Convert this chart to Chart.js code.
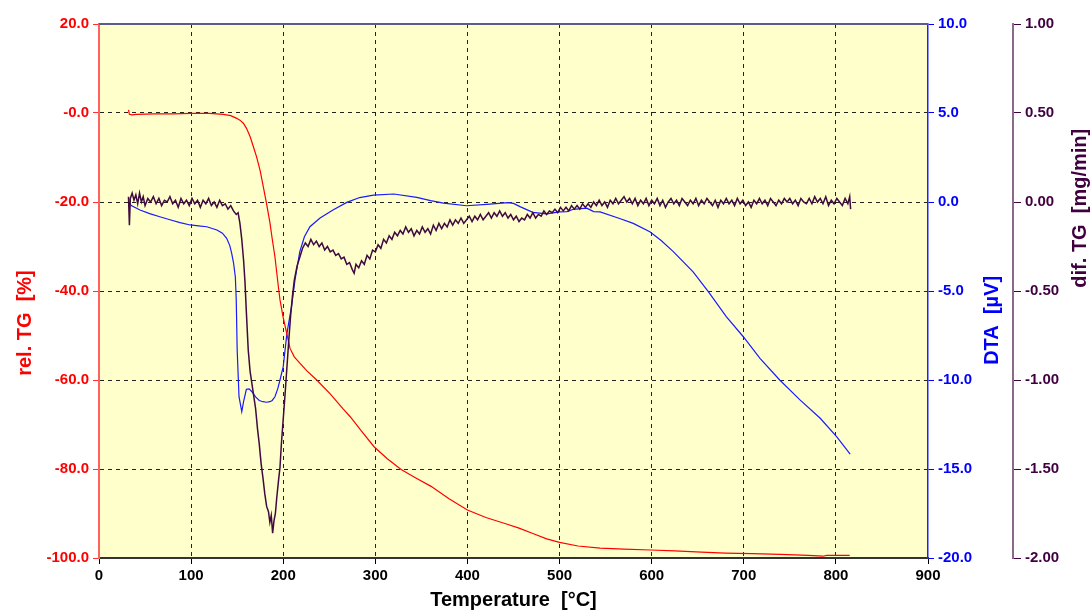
<!DOCTYPE html>
<html>
<head>
    <title>TG / DTA curves</title>
    <script src='https://cdn.jsdelivr.net/npm/chart.js'></script>
    <style>
        body { margin: 0; background: #fff; }
        #wrap { width: 1092px; height: 612px; }
    </style>
</head>
<body>
    <div id="wrap"><canvas id="taChart" width="1092" height="612"></canvas></div>
    <script>
        // rel. TG [%] vs temperature [°C]
        const relTG = [
            [32,0.7],[33,-0.3],[36,-0.4],[40,-0.3],[60,-0.2],[80,-0.2],[100,-0.1],[120,-0.1],[135,-0.3],
            [143,-0.6],[149.5,-1.2],[153,-1.6],[156.7,-2.3],[160,-3.4],[164,-5.3],[167,-7.2],[171,-9.8],
            [175,-13.0],[178.4,-16.6],[182,-20.5],[185.6,-24.7],[188,-28.2],[191,-32.3],[194.7,-39],
            [196.5,-42],[200,-46],[203.8,-49.5],[207.4,-52.9],[212,-54.8],[218,-56.2],[226,-58],
            [236.4,-60],[251,-63.1],[265,-66.5],[272.5,-68.2],[285,-71.5],[298.6,-75],[313,-77.7],
            [328,-80.1],[344,-82],[360.5,-83.9],[380,-86.7],[400,-89.2],[420,-90.9],[441.5,-92.3],
            [456,-93.3],[471,-94.5],[486,-95.7],[500,-96.5],[520,-97.3],[544,-97.8],[570,-98.0],
            [599,-98.2],[625,-98.4],[654,-98.7],[680,-98.9],[709,-99.0],[740,-99.2],[770,-99.4],
            [786,-99.6],[790,-99.4],[815,-99.4]
        ];

        // DTA [µV]
        const dta = [
            [32,0.0],[35,-0.2],[44.5,-0.45],[55,-0.65],[66,-0.83],[77,-1.0],[88,-1.16],[99,-1.29],
            [108,-1.34],[117,-1.39],[128,-1.57],[134,-1.75],[138.6,-2.04],[142,-2.45],[144,-2.87],
            [146,-3.4],[148,-4.2],[149,-5.5],[150,-8.3],[152,-10.94],[155,-11.78],[157,-11.2],
            [160,-10.52],[163,-10.5],[166,-10.66],[170,-10.95],[174,-11.15],[178,-11.22],[182,-11.25],
            [185.6,-11.22],[188,-11.15],[191,-10.94],[194,-10.5],[196.5,-10.0],[200,-9.25],[204,-7.38],
            [209,-5.88],[213,-4.3],[218,-2.79],[223,-1.95],[229,-1.39],[240,-0.9],[254,-0.45],
            [269,-0.02],[283,0.25],[298,0.39],[320,0.45],[345,0.26],[360,0.08],[374,-0.06],[399,-0.21],
            [421,-0.13],[444,-0.04],[450,-0.08],[457,-0.26],[471,-0.58],[486,-0.67],[500,-0.56],
            [508,-0.54],[515,-0.41],[529.5,-0.35],[537,-0.54],[544,-0.56],[566,-0.94],[580,-1.2],
            [598,-1.67],[610,-2.15],[623.5,-2.79],[645,-3.92],[661.5,-5.04],[681,-6.44],[699.5,-7.57],
            [717.6,-8.78],[739,-10.0],[761,-11.12],[783,-12.15],[801,-13.19],[815.5,-14.16]
        ];

        // dif. TG [mg/min]
        const difTG = [
            [32,0.03],[33,-0.13],[34,0.02],[36,0.05],[38,0.01],[40,0.04],[42,-0.01],[44,0.05],[46,0.0],
            [48,0.03],[50,-0.02],[53,0.02],[56,0.0],[59,0.03],[62,-0.01],[65,0.02],[68,-0.02],[71,0.01],
            [74,0.0],[77,0.03],[80,-0.01],[83,0.01],[86,-0.03],[89,0.02],[92,-0.01],[95,0.01],[98,-0.02],
            [101,0.02],[104,-0.01],[107,0.01],[110,-0.03],[113,0.01],[116,-0.01],[119,0.02],[122,-0.02],
            [125,0.0],[128,-0.03],[131,0.01],[134,-0.02],[137,-0.01],[140,-0.04],[143,-0.02],[146,-0.05],
            [149,-0.07],[151,-0.06],[153,-0.12],[155,-0.21],[157,-0.33],[158.5,-0.45],[160,-0.62],
            [162,-0.83],[164,-0.95],[166,-1.02],[168,-1.09],[170,-1.16],[172,-1.27],[174,-1.36],
            [176,-1.47],[178,-1.55],[180,-1.64],[182,-1.71],[184,-1.74],[185.5,-1.80],[187,-1.76],
            [188.5,-1.86],[190,-1.79],[191.5,-1.75],[193,-1.66],[195,-1.56],[196.5,-1.49],[198,-1.36],
            [200,-1.22],[202,-1.08],[204,-0.93],[206,-0.78],[208,-0.64],[210,-0.53],[212,-0.44],
            [215,-0.36],[218,-0.31],[221,-0.26],[224,-0.23],[227,-0.25],[230,-0.21],[233,-0.24],
            [236,-0.22],[239,-0.25],[242,-0.23],[245,-0.27],[248,-0.25],[251,-0.28],[254,-0.27],
            [257,-0.30],[260,-0.29],[263,-0.32],[266,-0.31],[269,-0.35],[272,-0.34],[275,-0.38],
            [277,-0.40],[279,-0.35],[282,-0.37],[285,-0.33],[288,-0.35],[291,-0.30],[294,-0.32],
            [297,-0.27],[300,-0.28],[303,-0.24],[306,-0.26],[309,-0.21],[312,-0.23],[315,-0.19],
            [318,-0.21],[321,-0.17],[324,-0.19],[327,-0.16],[330,-0.18],[333,-0.14],[336,-0.17],
            [339,-0.15],[342,-0.19],[345,-0.16],[348,-0.18],[351,-0.14],[354,-0.17],[357,-0.15],
            [360,-0.18],[363,-0.13],[366,-0.16],[369,-0.12],[372,-0.15],[375,-0.12],[378,-0.14],
            [381,-0.10],[384,-0.13],[387,-0.10],[390,-0.12],[393,-0.09],[396,-0.12],[399,-0.10],
            [402,-0.08],[405,-0.11],[408,-0.08],[411,-0.10],[414,-0.07],[417,-0.10],[420,-0.08],
            [423,-0.06],[426,-0.09],[429,-0.06],[432,-0.08],[435,-0.05],[438,-0.08],[441,-0.06],
            [444,-0.09],[447,-0.07],[450,-0.10],[453,-0.08],[456,-0.11],[459,-0.09],[462,-0.10],
            [465,-0.07],[468,-0.09],[471,-0.06],[474,-0.09],[477,-0.07],[480,-0.08],[483,-0.05],
            [486,-0.07],[489,-0.05],[492,-0.06],[495,-0.04],[498,-0.06],[501,-0.03],[504,-0.05],
            [507,-0.03],[510,-0.05],[513,-0.02],[516,-0.04],[519,-0.02],[522,-0.04],[525,-0.01],
            [528,-0.03],[531,-0.01],[534,-0.03],[537,0.0],[540,-0.02],[543,0.01],[546,-0.02],[549,0.0],
            [552,-0.03],[555,0.01],[558,-0.01],[561,0.02],[564,-0.01],[567,0.01],[570,0.03],[573,0.0],
            [576,0.02],[579,-0.01],[582,0.02],[585,-0.02],[588,0.01],[591,-0.01],[594,0.02],[597,-0.02],
            [600,0.01],[603,-0.01],[606,0.02],[609,-0.02],[612,0.01],[615,-0.03],[618,0.0],[621,0.02],
            [624,-0.01],[627,0.01],[630,-0.02],[633,0.02],[636,0.0],[639,-0.02],[642,0.01],[645,-0.01],
            [648,0.02],[651,-0.02],[654,0.01],[657,-0.01],[660,0.02],[663,0.0],[666,-0.02],[669,0.01],
            [672,-0.03],[675,0.01],[678,-0.01],[681,0.02],[684,-0.01],[687,0.01],[690,-0.02],[693,0.02],
            [696,-0.01],[699,0.01],[702,-0.02],[705,0.0],[708,-0.03],[711,0.01],[714,-0.01],[717,0.02],
            [720,-0.01],[723,0.01],[726,-0.02],[729,0.02],[732,0.0],[735,-0.02],[738,0.01],[741,-0.01],
            [744,0.02],[747,0.0],[750,0.02],[753,-0.01],[756,0.01],[759,-0.02],[762,0.02],[765,0.0],
            [768,-0.01],[771,0.02],[774,-0.01],[777,0.03],[780,0.0],[783,0.02],[786,-0.01],[789,0.03],
            [792,-0.02],[795,0.01],[798,-0.01],[801,0.02],[804,0.0],[807,-0.02],[810,0.02],[813,-0.01],
            [815,0.03],[816,-0.04]
        ];

        const FONT = "'Liberation Sans', Arial, sans-serif";
        const toXY = arr => arr.map(p => ({x: p[0], y: p[1]}));

        // yellow plot area + top frame line
        const plotFrame = {
            id: 'plotFrame',
            beforeDraw(chart) {
                const a = chart.chartArea, ctx = chart.ctx;
                ctx.save();
                ctx.fillStyle = '#ffffcc';
                ctx.fillRect(a.left, a.top, a.right - a.left, a.bottom - a.top);
                ctx.restore();
            },
            afterDraw(chart) {
                const a = chart.chartArea, ctx = chart.ctx;
                ctx.save();
                ctx.strokeStyle = '#5c5c8a';
                ctx.lineWidth = 2;
                ctx.beginPath();
                ctx.moveTo(a.left, a.top);
                ctx.lineTo(a.right, a.top);
                ctx.stroke();
                ctx.restore();
            }
        };

        // axis titles (placed off-centre like the original)
        const axisTitles = {
            id: 'axisTitles',
            afterDraw(chart) {
                const ctx = chart.ctx, a = chart.chartArea, s = chart.scales;
                const h = a.bottom - a.top;
                ctx.save();
                ctx.font = 'bold 20px ' + FONT;
                ctx.textAlign = 'center';
                ctx.textBaseline = 'middle';
                function vert(text, x, y, color) {
                    ctx.save();
                    ctx.translate(x, y);
                    ctx.rotate(-Math.PI / 2);
                    ctx.fillStyle = color;
                    ctx.fillText(text, 0, 0);
                    ctx.restore();
                }
                vert('rel. TG  [%]', s.y.left + 25, a.top + h * 0.56, '#ff0000');
                vert('DTA  [\u00b5V]', s.y2.right - 21, a.top + h * 0.555, '#0000ff');
                vert('dif. TG  [mg/min]', s.y3.right - 12, a.top + h * 0.345, '#400040');
                ctx.fillStyle = '#000';
                ctx.fillText('Temperature  [\u00b0C]', (a.left + a.right) / 2, s.x.bottom - 12);
                ctx.restore();
            }
        };

        const hideEdges = (lo, hi, col) => ctx => {
            const v = ctx.tick ? ctx.tick.value : null;
            return (v === lo || v === hi) ? 'rgba(0,0,0,0)' : col;
        };

        new Chart(document.getElementById('taChart').getContext('2d'), {
            type: 'scatter',
            data: {
                datasets: [
                    {
                        label: 'dif. TG',
                        data: toXY(difTG),
                        yAxisID: 'y3',
                        showLine: true,
                        borderColor: '#3f0a3f',
                        borderWidth: 1.5,
                        pointRadius: 0
                    },
                    {
                        label: 'rel. TG',
                        data: toXY(relTG),
                        yAxisID: 'y',
                        showLine: true,
                        borderColor: '#ff0000',
                        borderWidth: 1.2,
                        pointRadius: 0
                    },
                    {
                        label: 'DTA',
                        data: toXY(dta),
                        yAxisID: 'y2',
                        showLine: true,
                        borderColor: '#1a1aff',
                        borderWidth: 1.2,
                        pointRadius: 0
                    }
                ]
            },
            options: {
                responsive: false,
                animation: false,
                layout: { padding: { top: 24, left: 0, right: 0, bottom: 0 } },
                plugins: {
                    legend: { display: false },
                    tooltip: { enabled: false }
                },
                scales: {
                    x: {
                        type: 'linear',
                        min: 0,
                        max: 900,
                        afterFit(scale) { scale.height = 54; },
                        ticks: {
                            stepSize: 100,
                            color: '#000',
                            font: { family: FONT, size: 15, weight: 'bold' },
                            padding: 3,
                            maxRotation: 0,
                            autoSkip: false
                        },
                        grid: {
                            color: hideEdges(0, 900, '#222'),
                            lineWidth: 1,
                            tickColor: '#000',
                            tickLength: 6,
                            tickBorderDash: []
                        },
                        border: { color: '#333', width: 2, dash: [4, 4] }
                    },
                    y: {
                        position: 'left',
                        min: -100,
                        max: 20,
                        afterFit(scale) { scale.width = 99; },
                        ticks: {
                            stepSize: 20,
                            color: '#ff0000',
                            font: { family: FONT, size: 15, weight: 'bold' },
                            padding: 4,
                            callback: v => Math.abs(v) < 1e-9 ? '-0.0' : v.toFixed(1)
                        },
                        grid: {
                            color: hideEdges(-100, 20, '#222'),
                            lineWidth: 1,
                            tickColor: '#ff3030',
                            tickLength: 6,
                            tickBorderDash: []
                        },
                        border: { color: '#ff6060', width: 2, dash: [4, 4] }
                    },
                    y2: {
                        position: 'right',
                        min: -20,
                        max: 10,
                        afterFit(scale) { scale.width = 85; },
                        ticks: {
                            stepSize: 5,
                            color: '#0000ff',
                            font: { family: FONT, size: 15, weight: 'bold' },
                            padding: 4,
                            callback: v => v.toFixed(1)
                        },
                        grid: {
                            drawOnChartArea: false,
                            tickColor: '#0000ff',
                            tickLength: 6
                        },
                        border: { color: '#2020ff', width: 1.5 }
                    },
                    y3: {
                        position: 'right',
                        min: -2,
                        max: 1,
                        afterFit(scale) { scale.width = 79; },
                        ticks: {
                            stepSize: 0.5,
                            color: '#400040',
                            font: { family: FONT, size: 15, weight: 'bold' },
                            padding: 4,
                            callback: v => v.toFixed(2)
                        },
                        grid: {
                            drawOnChartArea: false,
                            tickColor: '#400040',
                            tickLength: 8
                        },
                        border: { color: '#8a6a8a', width: 2 }
                    }
                }
            },
            plugins: [plotFrame, axisTitles]
        });
    </script>
</body>
</html>
